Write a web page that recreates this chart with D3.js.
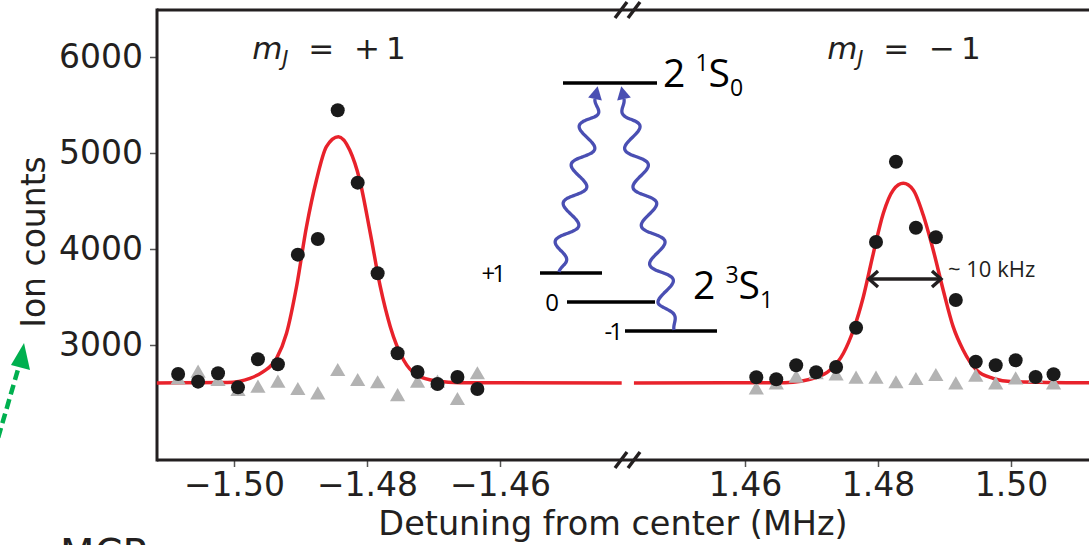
<!DOCTYPE html>
<html><head><meta charset="utf-8">
<script src="https://cdn.jsdelivr.net/npm/d3@7"></script>
<style>
html,body{margin:0;padding:0;background:#fff;overflow:hidden;}
svg{display:block;}
</style></head>
<body>
<script>
// ---------- data ----------
const yTicks = [3000, 4000, 5000, 6000];
const xTicksLeft = [-1.50, -1.48, -1.46];
const xTicksRight = [1.46, 1.48, 1.50];

const leftX = [-1.5084,-1.5054,-1.5024,-1.4994,-1.4964,-1.4934,-1.4904,-1.4874,-1.4844,-1.4814,-1.4784,-1.4754,-1.4724,-1.4694,-1.4664,-1.4634];
const leftCircles = [2698,2618,2705,2559,2851,2799,3941,4104,5445,4691,3747,2914,2719,2594,2667,2542];
const leftTriangles = [2635,2705,2618,2514,2549,2601,2524,2479,2722,2618,2594,2461,2601,2601,2420,2688];

const rightX = [1.4617,1.4647,1.4677,1.4707,1.4737,1.4767,1.4797,1.4827,1.4857,1.4887,1.4917,1.4947,1.4977,1.5007,1.5037,1.5064];
const rightCircles = [2664,2643,2789,2716,2771,3180,4073,4909,4222,4122,3469,2826,2789,2841,2667,2695];
const rightTriangles = [2531,2583,2653,2688,2677,2643,2643,2594,2628,2670,2583,2664,2583,2635,2653,2583];

const leftFitX = [-1.5116,-1.5010,-1.4976,-1.4956,-1.4936,-1.4921,-1.4906,-1.4891,-1.4876,-1.4861,-1.4843,-1.4826,-1.4811,-1.4795,-1.4780,-1.4765,-1.4745,-1.4725,-1.4695,-1.4660,-1.4417];
const leftFitY = [2605,2610,2653,2722,2861,3122,3607,4232,4719,5066,5170,5031,4719,4163,3607,3191,2844,2688,2625,2608,2605];
const rightFitX = [1.4433,1.4660,1.4708,1.4728,1.4748,1.4763,1.4778,1.4793,1.4808,1.4823,1.4838,1.4853,1.4868,1.4883,1.4898,1.4913,1.4928,1.4948,1.4973,1.5003,1.5130];
const rightFitY = [2605,2608,2664,2740,2914,3156,3503,3955,4372,4615,4684,4615,4354,3990,3573,3191,2948,2740,2653,2618,2605];

const titles = ["+", "\u2212"];

// ---------- layout ----------
const W = 1089, H = 545;
const plotTop = 10, plotBottom = 460, plotLeft = 157;
const svg = d3.select("body").append("svg").attr("width", W).attr("height", H);

const y = d3.scaleLinear().domain([3000, 6000]).range([345, 57]);
const x1 = d3.scaleLinear().domain([-1.50, -1.46]).range([234, 500]);
const x2 = d3.scaleLinear().domain([1.46, 1.50]).range([745, 1011]);

const RED = "#e8222b", DARK = "#231f20", GREY = "#b3b3b3";
const axisFont = "'DejaVu Sans', sans-serif";
const insetFont = "'Open Sans', 'Noto Sans', sans-serif";

// ---------- axes ----------
const yAx = svg.append("g").attr("transform", `translate(${plotLeft},0)`)
  .call(d3.axisLeft(y).tickValues(yTicks).tickSize(7).tickPadding(7).tickFormat(d3.format("d")));
const xAx1 = svg.append("g").attr("transform", `translate(0,${plotBottom})`)
  .call(d3.axisBottom(x1).tickValues(xTicksLeft).tickSize(7).tickPadding(6).tickFormat(d3.format(".2f")));
const xAx2 = svg.append("g").attr("transform", `translate(0,${plotBottom})`)
  .call(d3.axisBottom(x2).tickValues(xTicksRight).tickSize(7).tickPadding(6).tickFormat(d3.format(".2f")));
[yAx, xAx1, xAx2].forEach(g => {
  g.select(".domain").remove();
  g.selectAll(".tick line").attr("stroke", "#555").attr("stroke-width", 1.5);
  g.selectAll(".tick text").attr("fill", DARK).style("font-family", axisFont).style("font-size", "33px");
});

// spines
svg.append("line").attr("x1", plotLeft).attr("x2", plotLeft).attr("y1", plotTop - 1.5).attr("y2", plotBottom + 1.5)
  .attr("stroke", DARK).attr("stroke-width", 3);
[plotTop, plotBottom].forEach(yy => {
  svg.append("line").attr("x1", plotLeft).attr("x2", W + 5).attr("y1", yy).attr("y2", yy)
    .attr("stroke", DARK).attr("stroke-width", 3);
  [621, 634].forEach(cx => {
    svg.append("line").attr("x1", cx - 6).attr("y1", yy + 8).attr("x2", cx + 6).attr("y2", yy - 8)
      .attr("stroke", DARK).attr("stroke-width", 3.5);
  });
});

// ---------- fits ----------
const lineL = d3.line().x((d, i) => x1(leftFitX[i])).y(d => y(d)).curve(d3.curveMonotoneX);
const lineR = d3.line().x((d, i) => x2(rightFitX[i])).y(d => y(d)).curve(d3.curveMonotoneX);
svg.append("path").attr("d", lineL(leftFitY)).attr("fill", "none").attr("stroke", RED).attr("stroke-width", 3.5);
svg.append("path").attr("d", lineR(rightFitY)).attr("fill", "none").attr("stroke", RED).attr("stroke-width", 3.5);

// ---------- points ----------
const tri = d3.symbol().type(d3.symbolTriangle).size(100);
function drawPanel(xs, xsc, circ, tris) {
  svg.append("g").selectAll("path").data(tris).join("path")
    .attr("d", tri).attr("fill", GREY)
    .attr("transform", (d, i) => `translate(${xsc(xs[i])},${y(d)})`);
  svg.append("g").selectAll("circle").data(circ).join("circle")
    .attr("cx", (d, i) => xsc(xs[i])).attr("cy", d => y(d)).attr("r", 7).attr("fill", "#1a1a1a");
}
drawPanel(leftX, x1, leftCircles, leftTriangles);
drawPanel(rightX, x2, rightCircles, rightTriangles);

// ---------- labels ----------
svg.append("text").attr("transform", "translate(45,242) rotate(-90)").attr("text-anchor", "middle")
  .style("font-family", axisFont).style("font-size", "33px").attr("fill", DARK).text("Ion counts");
svg.append("text").attr("x", 613).attr("y", 535).attr("text-anchor", "middle")
  .style("font-family", axisFont).style("font-size", "33.5px").attr("fill", DARK).text("Detuning from center (MHz)");

function title(cx, sign) {
  const t = svg.append("text").attr("x", cx).attr("y", 59).attr("text-anchor", "middle")
    .style("font-family", axisFont).style("font-size", "31px").attr("fill", DARK)
    .style("white-space", "pre").attr("xml:space", "preserve");
  t.append("tspan").style("font-style", "italic").text("m");
  t.append("tspan").style("font-style", "italic").style("font-size", "21px").attr("dy", 7).text("J");
  t.append("tspan").attr("dy", -7).text("  =  " + sign + "\u20091");
}
title(329, titles[0]);
title(904, titles[1]);

// ---------- inset level diagram ----------
const lev = svg.append("g");
const lv = [[563, 657, 83], [540, 602, 273], [567, 655, 302], [625, 717, 331]];
lv.forEach(l => lev.append("line").attr("x1", l[0]).attr("x2", l[1]).attr("y1", l[2]).attr("y2", l[2])
  .attr("stroke", "#000").attr("stroke-width", 3.5));
[["+1", 503, 273], ["0", 556, 302], ["-1", 620, 331]].forEach(d => {
  lev.append("text").attr("x", d[1]).attr("y", d[2]).attr("dy", "0.36em").attr("text-anchor", "end")
    .style("font-family", insetFont).style("font-size", "24px").style("letter-spacing", "-3px").attr("fill", "#000").text(d[0]);
});
function term(x0, yb, sup, sub) {
  const t = lev.append("text").attr("x", x0).attr("y", yb)
    .style("font-family", insetFont).style("font-size", "39px").attr("fill", "#000");
  t.append("tspan").text("2\u00a0");
  t.append("tspan").style("font-size", "23px").attr("dy", -16).text(sup);
  t.append("tspan").attr("dy", 16).text("S");
  t.append("tspan").style("font-size", "23px").attr("dy", 9).text(sub);
}
term(663, 87, "1", "0");
term(693, 299, "3", "1");

// wavy photon arrows
const BLUE = "#4a4fb3";
function wave(p0, p1, periods, amp) {
  const dx = p1[0] - p0[0], dy = p1[1] - p0[1], L = Math.hypot(dx, dy);
  const ux = dx / L, uy = dy / L, nx = -uy, ny = ux;
  const pts = d3.range(0, 201).map(k => {
    const t = k / 200;
    const a = amp * Math.min(1, t * 8, (1 - t) * 10);
    const o = a * Math.sin(2 * Math.PI * periods * t);
    return [p0[0] + dx * t + nx * o, p0[1] + dy * t + ny * o];
  });
  lev.append("path").attr("d", d3.line().curve(d3.curveBasis)(pts))
    .attr("fill", "none").attr("stroke", BLUE).attr("stroke-width", 3.3);
  const tip = [p1[0] + ux * 13, p1[1] + uy * 13];
  const b = 7;
  lev.append("path").attr("d", `M${tip[0]},${tip[1]}L${p1[0] + nx * b},${p1[1] + ny * b}L${p1[0] - nx * b},${p1[1] - ny * b}Z`)
    .attr("fill", BLUE);
}
wave([559, 272], [595, 99], 4.5, 10);
wave([674, 330], [624, 99], 6, 10);

// width arrow + label
const wa = svg.append("g").attr("stroke", DARK).attr("stroke-width", 3.4).attr("fill", "none");
wa.append("line").attr("x1", 869).attr("x2", 941).attr("y1", 279).attr("y2", 279);
wa.append("path").attr("d", "M878,271L869,279L878,287");
wa.append("path").attr("d", "M932,271L941,279L932,287");
svg.append("text").attr("x", 948).attr("y", 277).style("font-family", insetFont).style("font-size", "22px")
  .attr("fill", DARK).text("~ 10 kHz");

// green dashed arrow (from neighbouring panel)
const G = "#00b04f";
svg.append("line").attr("x1", -6).attr("y1", 452).attr("x2", 19).attr("y2", 366)
  .attr("stroke", G).attr("stroke-width", 4.5).attr("stroke-dasharray", "10,5");
svg.append("path").attr("d", "M24,343L30,370L11,365Z").attr("fill", G);

// "MCP" label cut off at bottom (as in the reference)
svg.append("text").attr("x", 60).attr("y", 568).style("font-family", axisFont).style("font-size", "40px")
  .attr("fill", DARK).text("MCP");
</script>
</body></html>
